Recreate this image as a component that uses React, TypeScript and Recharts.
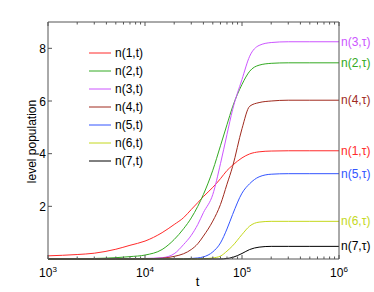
import React from "react"
import { LineChart, Line, XAxis, YAxis, Legend } from "recharts"

const FONT = "'Liberation Sans', Arial, Helvetica, sans-serif"
const AXIS = "#555"

// sample times (log axis) and level populations
const times = [
  1e3, 2e3, 3e3, 5e3, 7e3, 1e4, 1.5e4, 2e4, 2.5e4, 3e4, 3.5e4, 4e4,
  5e4, 6e4, 7e4, 8e4, 1e5, 1.2e5, 1.5e5, 2e5, 3e5, 5e5, 1e6,
]
const n1 = [0.12, 0.17, 0.22, 0.37, 0.52, 0.68, 1.0, 1.31, 1.57, 1.88, 2.14, 2.37, 2.72, 3.05, 3.36, 3.56, 3.84, 3.99, 4.07, 4.1, 4.11, 4.11, 4.11]
const n2 = [0.01, 0.01, 0.02, 0.05, 0.09, 0.15, 0.36, 0.74, 1.15, 1.56, 2.0, 2.45, 3.37, 4.3, 5.1, 5.78, 6.63, 7.13, 7.36, 7.43, 7.45, 7.45, 7.45]
const n3 = [0, 0, 0, 0.01, 0.01, 0.02, 0.05, 0.2, 0.55, 0.9, 1.31, 1.76, 2.45, 3.62, 4.73, 5.67, 6.82, 7.7, 8.11, 8.22, 8.25, 8.25, 8.25]
const n4 = [0, 0, 0, 0, 0, 0.01, 0.03, 0.1, 0.2, 0.36, 0.58, 0.87, 1.44, 2.07, 2.84, 3.51, 4.95, 5.8, 5.94, 6.0, 6.03, 6.03, 6.03]
const n5 = [0, 0, 0, 0, 0, 0, 0, 0, 0, 0.02, 0.04, 0.08, 0.27, 0.61, 1.14, 1.69, 2.5, 2.86, 3.12, 3.22, 3.24, 3.24, 3.24]
const n6 = [0, 0, 0, 0, 0, 0, 0, 0, 0, 0, 0, 0.01, 0.04, 0.11, 0.3, 0.5, 0.93, 1.25, 1.4, 1.43, 1.43, 1.43, 1.43]
const n7 = [0, 0, 0, 0, 0, 0, 0, 0, 0, 0, 0, 0, 0, 0, 0.02, 0.06, 0.21, 0.36, 0.45, 0.48, 0.48, 0.48, 0.48]

const series = [
  { key: "n1", name: "n(1,t)", end: "n(1,τ)", color: "#ff2a2a", values: n1 },
  { key: "n2", name: "n(2,t)", end: "n(2,τ)", color: "#33aa22", values: n2 },
  { key: "n3", name: "n(3,t)", end: "n(3,τ)", color: "#cc55ff", values: n3 },
  { key: "n4", name: "n(4,t)", end: "n(4,τ)", color: "#a02a1e", values: n4 },
  { key: "n5", name: "n(5,t)", end: "n(5,τ)", color: "#3355ff", values: n5 },
  { key: "n6", name: "n(6,t)", end: "n(6,τ)", color: "#c4d81c", values: n6 },
  { key: "n7", name: "n(7,t)", end: "n(7,τ)", color: "#000000", values: n7 },
]

const xMajor = [1e3, 1e4, 1e5, 1e6]
const xMinor = [1e3, 1e4, 1e5].flatMap((d) => [2, 3, 4, 5, 6, 7, 8, 9].map((m) => m * d))
const xTicks = [...xMajor, ...xMinor].sort((a, b) => a - b)
const yTicks = [2, 4, 6, 8]

const data = times.map((t, i) => {
  const row: Record<string, number> = { t }
  series.forEach((s) => (row[s.key] = s.values[i]))
  return row
})

const BottomTick = (props: any) => {
  const { x, y, payload } = props
  const major = xMajor.includes(payload.value)
  return (
    <g>
      <line x1={x} y1={y} x2={x} y2={y - (major ? 4 : 2.5)} stroke={AXIS} />
      {major && (
        <text x={x} y={y + 18} textAnchor="middle" fontSize={12} fill="#000" fontFamily={FONT}>
          10<tspan dy={-5} fontSize={8}>{Math.round(Math.log10(payload.value))}</tspan>
        </text>
      )}
    </g>
  )
}

const TopTick = (props: any) => {
  const { x, y, payload } = props
  const major = xMajor.includes(payload.value)
  return <line x1={x} y1={y} x2={x} y2={y + (major ? 4 : 2.5)} stroke={AXIS} />
}

const LeftTick = (props: any) => {
  const { x, y, payload } = props
  return (
    <g>
      <line x1={x} y1={y} x2={x + 4} y2={y} stroke={AXIS} />
      <text x={x - 2} y={y + 4.5} textAnchor="end" fontSize={12} fill="#000" fontFamily={FONT}>
        {payload.value}
      </text>
    </g>
  )
}

const RightTick = (props: any) => {
  const { x, y } = props
  return <line x1={x} y1={y} x2={x - 4} y2={y} stroke={AXIS} />
}

const endLabel = (text: string, color: string) => (props: any) => {
  const { x, y, index } = props
  if (index !== times.length - 1) return <g />
  return (
    <text x={x + 2} y={y + 4} fill={color} fontSize={12} fontFamily={FONT}>
      {text}
    </text>
  )
}

const LegendBox = ({ payload }: any) => (
  <div style={{ fontFamily: FONT, fontSize: 12, color: "#000" }}>
    {(payload || []).map((p: any) => (
      <div key={p.value} style={{ display: "flex", alignItems: "center", height: 18 }}>
        <svg width={26} height={18}>
          <line x1={3} y1={9} x2={25} y2={9} stroke={p.color} strokeWidth={1} />
        </svg>
        <span style={{ marginLeft: 3 }}>{p.value}</span>
      </div>
    ))}
  </div>
)

export default function App() {
  return (
    <div style={{ position: "absolute", left: 0, top: 0, width: 374, height: 292, background: "#fff" }}>
      <LineChart width={374} height={292} data={data} margin={{ top: 21, right: 34, bottom: 0, left: 0 }}>
        <XAxis
          dataKey="t"
          type="number"
          scale="log"
          domain={[1e3, 1e6]}
          allowDataOverflow
          ticks={xTicks}
          interval={0}
          height={33}
          tickSize={0}
          tickMargin={0}
          tickLine={false}
          axisLine={{ stroke: AXIS }}
          tick={<BottomTick />}
          label={(p: any) => {
            const vb = p.viewBox
            return (
              <text x={vb.x + vb.width / 2 + 4} y={vb.y + 27} textAnchor="middle" fontSize={13} fontFamily={FONT}>
                t
              </text>
            )
          }}
        />
        <XAxis
          xAxisId="top"
          orientation="top"
          dataKey="t"
          type="number"
          scale="log"
          domain={[1e3, 1e6]}
          allowDataOverflow
          ticks={xTicks}
          interval={0}
          height={1}
          tickSize={0}
          tickMargin={0}
          tickLine={false}
          axisLine={{ stroke: AXIS }}
          tick={<TopTick />}
        />
        <YAxis
          type="number"
          domain={[0, 9]}
          ticks={yTicks}
          width={48}
          tickSize={0}
          tickMargin={0}
          tickLine={false}
          axisLine={{ stroke: AXIS }}
          tick={<LeftTick />}
          label={(p: any) => {
            const vb = p.viewBox
            const cx = 35.5
            const cy = vb.y + vb.height / 2 + 1
            return (
              <text x={cx} y={cy} transform={`rotate(-90 ${cx} ${cy})`} textAnchor="middle" fontSize={12} fontFamily={FONT}>
                level population
              </text>
            )
          }}
        />
        <YAxis
          yAxisId="right"
          orientation="right"
          type="number"
          domain={[0, 9]}
          ticks={yTicks}
          width={1}
          tickSize={0}
          tickMargin={0}
          tickLine={false}
          axisLine={{ stroke: AXIS }}
          tick={<RightTick />}
        />
        <Legend
          layout="vertical"
          align="center"
          verticalAlign="middle"
          wrapperStyle={{ left: 86, top: 44, width: 70 }}
          content={<LegendBox />}
        />
        {series.map((s) => (
          <Line
            key={s.key}
            dataKey={s.key}
            name={s.name}
            type="monotone"
            stroke={s.color}
            strokeWidth={1}
            dot={false}
            activeDot={false}
            isAnimationActive={false}
            label={endLabel(s.end, s.color)}
          />
        ))}
      </LineChart>
    </div>
  )
}
